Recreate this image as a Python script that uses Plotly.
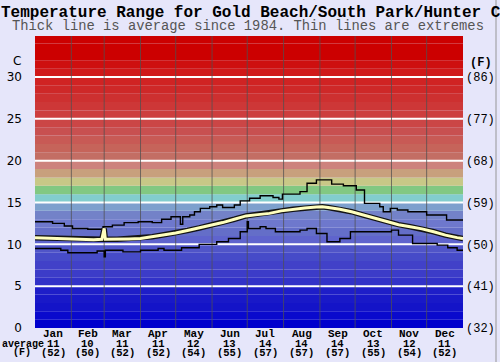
import plotly.graph_objects as go

# ---------------- data ----------------
title_text = "Temperature Range for Gold Beach/South Park/Hunter Creek"
subtitle_text = "Thick line is average since 1984. Thin lines are extremes"

months = ["Jan", "Feb", "Mar", "Apr", "May", "Jun", "Jul", "Aug", "Sep", "Oct", "Nov", "Dec"]
month_start_day = [0, 31, 59, 90, 120, 151, 181, 212, 243, 273, 304, 334, 365]
month_avg_c = ["11", "10", "11", "11", "12", "13", "14", "14", "14", "13", "12", "11"]
month_avg_f = ["(52)", "(50)", "(52)", "(52)", "(54)", "(55)", "(57)", "(57)", "(57)", "(55)", "(54)", "(52)"]

c_ticks = [0, 5, 10, 15, 20, 25, 30]
f_tick_text = ["(32)", "(41)", "(50)", "(59)", "(68)", "(77)", "(86)"]

avg_day = [0, 10, 20, 30, 40, 50, 57, 59, 60, 70, 80, 90, 100, 110, 120, 130, 140, 150,
           160, 170, 180, 190, 200, 210, 220, 230, 240, 245, 250, 260, 270, 280, 290,
           300, 310, 320, 330, 340, 350, 360, 365]
avg_temp = [10.8, 10.75, 10.65, 10.6, 10.55, 10.55, 10.6, 11.9, 10.6, 10.6, 10.65, 10.7,
            10.9, 11.15, 11.35, 11.65, 11.95, 12.25, 12.6, 13.0, 13.4, 13.55, 13.7, 14.0,
            14.2, 14.35, 14.45, 14.5, 14.4, 14.2, 13.9, 13.5, 13.1, 12.7, 12.35, 12.1,
            11.85, 11.5, 11.1, 10.8, 10.7]

max_day = [0, 15, 25, 32, 45, 58, 66, 76, 88, 100, 108, 116, 124, 126, 132, 136, 141, 149,
           155, 160, 170, 175, 183, 192, 203, 208, 211, 226, 232, 240, 253, 263, 274, 281,
           294, 297, 303, 309, 318, 334, 351, 365]
max_temp = [12.7, 12.5, 12.2, 11.9, 11.8, 12.1, 12.3, 12.6, 12.7, 12.6, 13.0, 13.3, 12.4,
            13.3, 13.5, 13.9, 14.3, 14.5, 14.7, 14.4, 14.7, 15.2, 15.5, 15.8, 15.6, 15.4,
            16.0, 16.3, 17.3, 17.7, 17.2, 17.0, 16.5, 14.9, 14.5, 13.9, 14.3, 14.1, 13.9,
            13.5, 12.9, 12.9]

min_day = [0, 22, 28, 53, 59, 60, 75, 90, 105, 110, 125, 140, 155, 165, 175, 181, 182,
           192, 197, 205, 211, 226, 232, 240, 249, 260, 269, 304, 310, 322, 343, 352, 360, 365]
min_temp = [9.5, 9.3, 9.0, 9.2, 8.5, 9.3, 9.1, 9.3, 9.5, 9.3, 9.6, 10.0, 10.3, 10.7, 11.5,
            12.7, 11.9, 12.1, 11.9, 11.5, 11.5, 11.7, 11.9, 11.3, 10.3, 10.7, 11.5, 11.7,
            11.1, 10.1, 9.9, 9.6, 9.3, 9.3]

# colour of each 1-degree band from 0 (bottom) to 35 (top)
band_colors = [
    "rgb(0,0,205)", "rgb(10,10,205)", "rgb(20,20,200)", "rgb(25,25,200)", "rgb(30,30,200)",
    "rgb(50,50,200)", "rgb(60,60,200)", "rgb(65,65,200)", "rgb(70,75,200)", "rgb(80,85,200)",
    "rgb(95,100,205)", "rgb(100,110,200)", "rgb(110,120,205)", "rgb(115,130,200)", "rgb(125,160,205)",
    "rgb(130,205,205)", "rgb(130,200,130)", "rgb(200,200,135)", "rgb(200,160,125)", "rgb(205,130,125)",
    "rgb(195,110,100)", "rgb(198,100,90)", "rgb(200,90,85)", "rgb(200,80,80)", "rgb(203,70,70)",
    "rgb(205,62,62)", "rgb(205,55,55)", "rgb(205,48,48)", "rgb(206,40,40)", "rgb(208,35,35)",
    "rgb(208,25,25)", "rgb(206,15,15)", "rgb(204,0,0)", "rgb(204,0,0)", "rgb(204,0,0)",
]

# ---------------- figure ----------------
BG = "#E6E6FA"
L, R, T, B = 35, 37, 36, 34
W, H = 500, 362
PW, PH = W - L - R, H - T - B


def px_x(px):
    return (px - L) / PW


def px_y(py):
    return (H - B - py) / PH


fig = go.Figure()

fig.add_trace(go.Scatter(x=max_day, y=max_temp, mode="lines", line=dict(color="black", width=1.4, shape="hv"),
                         hoverinfo="skip", showlegend=False))
fig.add_trace(go.Scatter(x=min_day, y=min_temp, mode="lines", line=dict(color="black", width=1.4, shape="hv"),
                         hoverinfo="skip", showlegend=False))
fig.add_trace(go.Scatter(x=avg_day, y=avg_temp, mode="lines", line=dict(color="rgb(20,20,20)", width=5.5),
                         hoverinfo="skip", showlegend=False))
fig.add_trace(go.Scatter(x=avg_day, y=avg_temp, mode="lines", line=dict(color="rgb(255,255,190)", width=3),
                         hoverinfo="skip", showlegend=False))
fig.add_trace(go.Scatter(x=[0], y=[0], mode="markers", marker=dict(opacity=0), yaxis="y2",
                         hoverinfo="skip", showlegend=False))

shapes = []
for i, col in enumerate(band_colors):
    shapes.append(dict(type="rect", xref="x", yref="y", x0=month_start_day[0], x1=month_start_day[-1],
                       y0=i, y1=i + 1, fillcolor=col, line=dict(width=0), layer="below"))
for v in c_ticks[1:]:
    shapes.append(dict(type="line", xref="x", yref="y", x0=month_start_day[0], x1=month_start_day[-1],
                       y0=v, y1=v, line=dict(color="white", width=2), layer="below"))
for d in month_start_day[1:-1]:
    shapes.append(dict(type="line", xref="x", yref="y", x0=d, x1=d, y0=0, y1=35,
                       line=dict(color="rgba(80,80,80,0.75)", width=1), layer="below"))
# frame line on the right edge of the image
shapes.append(dict(type="line", xref="paper", yref="paper", x0=px_x(496), x1=px_x(496),
                   y0=px_y(0), y1=px_y(H), line=dict(color="rgb(150,150,150)", width=1)))

mono = "Liberation Mono, Courier New, monospace"
annotations = [
    dict(text="<b>" + title_text + "</b>", xref="paper", yref="paper", x=px_x(-1.5), y=px_y(13),
         xanchor="left", yanchor="middle", showarrow=False, font=dict(family=mono, size=16, color="black")),
    dict(text=subtitle_text, xref="paper", yref="paper", x=px_x(248), y=px_y(27),
         xanchor="center", yanchor="middle", showarrow=False, font=dict(family=mono, size=13.8, color="rgb(85,85,85)")),
    dict(text="C", xref="paper", yref="paper", x=px_x(17), y=px_y(61), xanchor="center", yanchor="middle",
         showarrow=False, font=dict(family="DejaVu Sans", size=12, color="black")),
    dict(text="<b>(F)</b>", xref="paper", yref="paper", x=px_x(481), y=px_y(63), xanchor="center", yanchor="middle",
         showarrow=False, font=dict(family=mono, size=12, color="black")),
    dict(text="<b>average</b>", xref="paper", yref="paper", x=px_x(23), y=px_y(344), xanchor="center",
         yanchor="middle", showarrow=False, font=dict(family=mono, size=10, color="black")),
    dict(text="<b>(F)</b>", xref="paper", yref="paper", x=px_x(22), y=px_y(352.5), xanchor="center",
         yanchor="middle", showarrow=False, font=dict(family=mono, size=10, color="black")),
]
for i, m in enumerate(months):
    mid = (month_start_day[i] + month_start_day[i + 1]) / 2
    annotations.append(dict(text="<b>" + m + "</b>", xref="x", yref="paper", x=mid, y=px_y(334),
                            xanchor="center", yanchor="middle", showarrow=False,
                            font=dict(family=mono, size=11, color="black")))
    annotations.append(dict(text="<b>" + month_avg_c[i] + "</b>", xref="x", yref="paper", x=mid, y=px_y(344),
                            xanchor="center", yanchor="middle", showarrow=False,
                            font=dict(family=mono, size=10.5, color="black")))
    annotations.append(dict(text="<b>" + month_avg_f[i] + "</b>", xref="x", yref="paper", x=mid, y=px_y(352.5),
                            xanchor="center", yanchor="middle", showarrow=False,
                            font=dict(family=mono, size=10.5, color="black")))

fig.update_layout(
    width=W, height=H, autosize=False,
    margin=dict(l=L, r=R, t=T, b=B, pad=0, autoexpand=False),
    paper_bgcolor=BG, plot_bgcolor=BG,
    showlegend=False,
    shapes=shapes,
    annotations=annotations,
    xaxis=dict(range=[month_start_day[0], month_start_day[-1]], showgrid=False, zeroline=False,
               showticklabels=False, ticks="", showline=False, automargin=False),
    yaxis=dict(range=[0, 34.9], tickvals=c_ticks, ticktext=[str(v) for v in c_ticks], showgrid=False,
               zeroline=False, ticks="", showline=False, ticklabelstandoff=12, automargin=False,
               tickfont=dict(family="DejaVu Sans", size=12, color="black")),
    yaxis2=dict(range=[0, 34.9], overlaying="y", side="right", tickvals=c_ticks, ticktext=f_tick_text,
                showgrid=False, zeroline=False, ticks="", showline=False, ticklabelstandoff=2, automargin=False,
                tickfont=dict(family=mono, size=12, color="black")),
)

fig.write_html(
    "out.html",
    config={"displayModeBar": False, "responsive": False},
    post_script="document.body.style.margin='0';document.body.style.overflow='hidden';",
)
